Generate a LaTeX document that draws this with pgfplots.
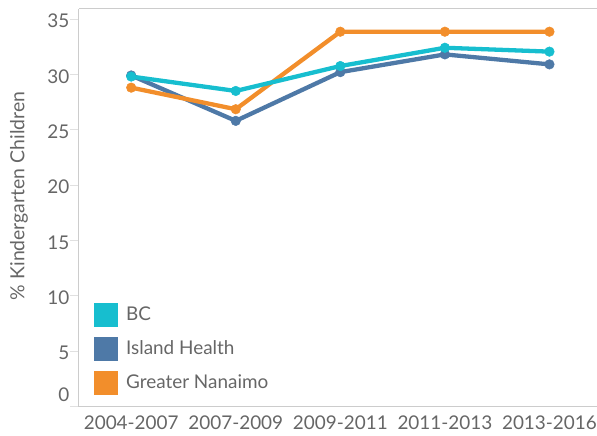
\documentclass[border=0pt]{standalone}
\usepackage{pgfplots}
\pgfplotsset{compat=1.18}
\usepackage{fontspec}
\setmainfont{Lato}
\definecolor{bc}{HTML}{17BECF}
\definecolor{ih}{HTML}{4E79A7}
\definecolor{gn}{HTML}{F28E2B}
\definecolor{txt}{HTML}{666666}
\definecolor{frame}{HTML}{CCCCCC}
\begin{document}
\begin{tikzpicture}
\begin{axis}[
    scale only axis,
    width=518bp, height=398bp,
    xmin=-0.5, xmax=4.45,
    ymin=0, ymax=35.9,
    axis x line*=box,
    axis y line*=left,
    axis line style={frame, line width=1bp},
    xtick={0,1,2,3,4},
    xticklabels={2004-2007,2007-2009,2009-2011,2011-2013,2013-2016},
    xtick style={draw=none},
    ytick={0,5,10,15,20,25,30,35},
    yticklabels={\raisebox{28bp}{0},5,10,15,20,25,30,\raisebox{-8bp}{35}},
    ytick style={draw=frame!60, line width=0.8bp},
    tick align=outside,
    major tick length=9bp,
    tick label style={font=\fontsize{19}{22}\selectfont, text=txt},
    x tick label style={yshift=3bp, inner xsep=0pt},
    y tick label style={xshift=3bp, yshift=-2bp},
    ylabel={\% Kindergarten Children},
    every axis y label/.style={at={(rel axis cs:0,0.53)}, xshift=-60bp, inner sep=0pt,
        rotate=90, anchor=center, font=\fontsize{19.5}{22}\selectfont, text=txt},
    legend style={at={(rel axis cs:0.029,0.03)}, anchor=south west, draw=none, fill=none,
        font=\fontsize{19}{22}\selectfont, text=txt, row sep=10bp,
        legend cell align=left, inner sep=0pt,
        nodes={inner xsep=8bp}},
    legend image code/.code={\fill[#1, draw=none] (0bp,-12bp) rectangle (24bp,12bp);},
    every axis plot/.append style={line width=4.3bp, mark=*, mark size=4.8bp},
    clip=false,
]
\addplot[ih, mark options={fill=ih, draw=ih, line width=0.5bp}, forget plot] coordinates {
    (0,29.9) (1,25.8) (2,30.2) (3,31.8) (4,30.9)
};
\addplot[gn, mark options={fill=gn, draw=gn, line width=0.5bp}, forget plot] coordinates {
    (0,28.8) (1,26.85) (2,33.85) (3,33.85) (4,33.85)
};
\addplot[bc, mark options={fill=bc, draw=bc, line width=0.5bp}, forget plot] coordinates {
    (0,29.8) (1,28.5) (2,30.75) (3,32.4) (4,32.05)
};
\addlegendimage{fill=bc, draw=none}
\addlegendentry{BC}
\addlegendimage{fill=ih, draw=none}
\addlegendentry{Island Health}
\addlegendimage{fill=gn, draw=none}
\addlegendentry{Greater Nanaimo}
\path (rel axis cs:0,1) ++(-79bp,9bp);
\path (rel axis cs:1,0) ++(0bp,-29bp);
\end{axis}
\end{tikzpicture}
\end{document}
